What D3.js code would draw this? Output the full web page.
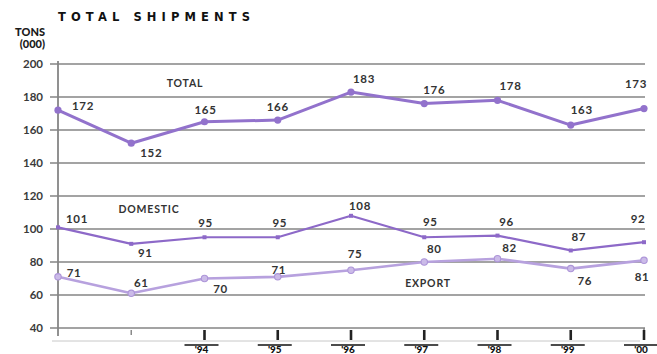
<!DOCTYPE html>
<html>
<head>
<meta charset="utf-8">
<script src="https://cdn.jsdelivr.net/npm/d3@7"></script>
<style>
  html, body { margin: 0; padding: 0; background: #fff; }
  svg { display: block; }
  text { font-family: Lato, "Open Sans", sans-serif; font-weight: 700; }
</style>
</head>
<body>
<svg id="chart" width="657" height="354"></svg>
<script>
// Shipments in thousands of tons, 1992-2000
const years = ["'92", "'93", "'94", "'95", "'96", "'97", "'98", "'99", "'00"];
const tickLabels = ["", "", "'94", "'95", "'96", "'97", "'98", "'99", "'00"];
const totalValues = [172, 152, 165, 166, 183, 176, 178, 163, 173];
const domesticValues = [101, 91, 95, 95, 108, 95, 96, 87, 92];
const exportValues = [71, 61, 70, 71, 75, 80, 82, 76, 81];
const yTickValues = [40, 60, 80, 100, 120, 140, 160, 180, 200];

// value-label offsets from each point: [dx, dy]
const totalLabelOffsets = [[25, 0], [20, 14], [1, -8], [0, -9], [13, -9], [10, -10], [13, -10], [11, -11], [-8, -21]];
const domesticLabelOffsets = [[19, -4], [14, 13], [1, -10], [2, -10], [9, -6], [6, -11], [9, -10], [8, -9], [-6, -19]];
const exportLabelOffsets = [[16, 0], [10, -6], [16, 14], [1, -3], [4, -12], [10, -9], [12, -7], [14, 16], [-2, 21]];

const svg = d3.select("#chart");

const x = d3.scaleLinear().domain([0, years.length - 1]).range([58, 644]);
const y = d3.scaleLinear().domain([40, 200]).range([328, 64]);

// title and unit
svg.append("text")
  .attr("x", 58).attr("y", 21)
  .attr("textLength", 192).attr("lengthAdjust", "spacing")
  .style("font-family", "'DejaVu Sans', sans-serif")
  .style("font-size", "11.5px").style("font-weight", 700)
  .attr("fill", "#111")
  .text("TOTAL SHIPMENTS");

svg.append("text").attr("x", 45).attr("y", 36).attr("text-anchor", "end")
  .style("font-size", "11px").style("font-weight", 900).attr("fill", "#1a1a1a").text("TONS");
svg.append("text").attr("x", 45).attr("y", 48).attr("text-anchor", "end")
  .style("font-size", "11px").style("font-weight", 900).attr("fill", "#1a1a1a").text("(000)");

// horizontal grid
const grid = svg.append("g");
grid.selectAll("line").data(yTickValues).join("line")
  .attr("x1", 50).attr("x2", 645)
  .attr("y1", d => y(d)).attr("y2", d => y(d))
  .attr("stroke", "#858585").attr("stroke-width", 1.6);

// y axis labels through d3 axis
const yAxis = svg.append("g").attr("transform", "translate(50,0)")
  .call(d3.axisLeft(y).tickValues(yTickValues).tickSize(0).tickPadding(7));
yAxis.select(".domain").remove();
yAxis.selectAll("text")
  .style("font-family", "Lato, sans-serif").style("font-weight", 700)
  .style("font-size", "11.5px").attr("fill", "#3a3a3a");

// vertical axis line
svg.append("line")
  .attr("x1", x(0)).attr("x2", x(0))
  .attr("y1", 61).attr("y2", 336)
  .attr("stroke", "#858585").attr("stroke-width", 1.8);
svg.append("line")
  .attr("x1", x(years.length - 1)).attr("x2", x(years.length - 1))
  .attr("y1", y(40)).attr("y2", y(40) + 5)
  .attr("stroke", "#858585").attr("stroke-width", 1.6);

// faint rule below the axis
svg.append("line")
  .attr("x1", 52).attr("x2", 640)
  .attr("y1", 341).attr("y2", 341)
  .attr("stroke", "#c8c8c8").attr("stroke-width", 1);

// x ticks and labels
const xt = svg.append("g");
xt.selectAll("line").data(years.slice(1)).join("line")
  .attr("x1", (d, i) => x(i + 1)).attr("x2", (d, i) => x(i + 1))
  .attr("y1", y(40) + 2).attr("y2", (d, i) => i === 0 ? y(40) + 7 : y(40) + 12)
  .attr("stroke", (d, i) => i === 0 ? "#8a8a8a" : "#222")
  .attr("stroke-width", (d, i) => i === 0 ? 1.5 : 2.6);

const xl = svg.append("g");
tickLabels.forEach((t, i) => {
  if (!t) return;
  xl.append("line")
    .attr("x1", x(i) - 20).attr("x2", x(i) + 14)
    .attr("y1", 345).attr("y2", 345)
    .attr("stroke", "#111").attr("stroke-width", 1.4);
  xl.append("text")
    .attr("x", x(i) - 3).attr("y", 353)
    .attr("text-anchor", "middle")
    .style("font-size", "10px").style("font-weight", 900)
    .attr("fill", "#111")
    .text(t);
});

// series
const line = d3.line().x((d, i) => x(i)).y(d => y(d));

function drawSeries(values, color, width, marker, offsets) {
  const g = svg.append("g");
  g.append("path").datum(values)
    .attr("d", line)
    .attr("fill", "none").attr("stroke", color)
    .attr("stroke-width", width).attr("stroke-linejoin", "round");
  if (marker === "circle") {
    g.selectAll("circle").data(values).join("circle")
      .attr("cx", (d, i) => x(i)).attr("cy", d => y(d))
      .attr("r", 3.6).attr("fill", color);
  } else if (marker === "square") {
    g.selectAll("rect").data(values).join("rect")
      .attr("x", (d, i) => x(i) - 2).attr("y", d => y(d) - 2)
      .attr("width", 4).attr("height", 4).attr("fill", color);
  } else {
    g.selectAll("circle").data(values).join("circle")
      .attr("cx", (d, i) => x(i)).attr("cy", d => y(d))
      .attr("r", 3.2).attr("fill", "#cbbbe8").attr("stroke", "#ad95d8").attr("stroke-width", 1.1);
  }
  g.selectAll("text").data(values).join("text")
    .attr("x", (d, i) => x(i) + offsets[i][0])
    .attr("y", (d, i) => y(d) + offsets[i][1])
    .attr("text-anchor", "middle")
    .style("font-size", "11.5px").style("letter-spacing", "0.6px")
    .attr("fill", "#333")
    .text(d => d);
}

drawSeries(exportValues, "#b7a1de", 2.6, "ring", exportLabelOffsets);
drawSeries(domesticValues, "#8d69c8", 2.2, "square", domesticLabelOffsets);
drawSeries(totalValues, "#9272cc", 3, "circle", totalLabelOffsets);

// series names
const names = [
  { text: "TOTAL", cx: 185, cy: 87 },
  { text: "DOMESTIC", cx: 149, cy: 213 },
  { text: "EXPORT", cx: 428, cy: 287 }
];
svg.append("g").selectAll("text").data(names).join("text")
  .attr("x", d => d.cx).attr("y", d => d.cy)
  .attr("text-anchor", "middle")
  .style("font-size", "10.5px").style("letter-spacing", "0.8px")
  .attr("fill", "#333")
  .text(d => d.text);
</script>
</body>
</html>
